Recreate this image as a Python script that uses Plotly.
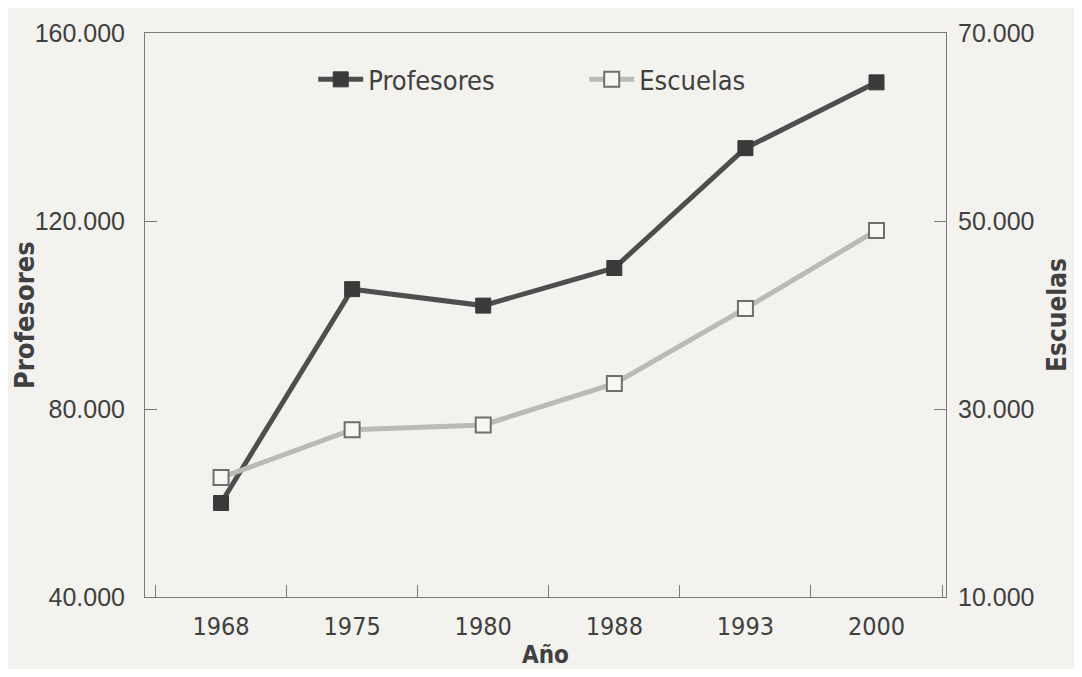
import plotly.graph_objects as go

# data
anios = ["1968", "1975", "1980", "1988", "1993", "2000"]
profesores = [60000, 105500, 102000, 110000, 135500, 149500]
escuelas = [22700, 27800, 28300, 32700, 40700, 49000]

TXT = "#404040"
COND = "DejaVu Sans Condensed, Liberation Sans Narrow, Arial Narrow, sans-serif"
REG = "Liberation Sans, Arial, sans-serif"
AXIS = "#7a7a7a"

fig = go.Figure()

fig.add_trace(go.Scatter(x=anios, y=profesores, name="Profesores",
                         mode="lines+markers",
                         line=dict(color="#4e4e4e", width=5),
                         marker=dict(symbol="square", size=15, color="#3a3a3a",
                                     line=dict(color="#3a3a3a", width=1))))

fig.add_trace(go.Scatter(x=anios, y=escuelas, name="Escuelas", yaxis="y2",
                         mode="lines+markers",
                         line=dict(color="#bbbbb4", width=5),
                         marker=dict(symbol="square", size=15, color="#f7f6f2",
                                     line=dict(color="#6e6e6e", width=2))))

# y titles as annotations so they sit where the scan has them
fig.add_annotation(text="<b>Profesores</b>", textangle=-90, showarrow=False,
                   xref="paper", yref="paper", x=0, y=0.5,
                   xanchor="center", yanchor="middle", xshift=-121,
                   font=dict(family=COND, size=27, color=TXT))
fig.add_annotation(text="<b>Escuelas</b>", textangle=-90, showarrow=False,
                   xref="paper", yref="paper", x=1, y=0.5,
                   xanchor="center", yanchor="middle", xshift=111,
                   font=dict(family=COND, size=26, color=TXT))

# page body has an 8px margin; keep the figure inside the window (no scrollbars)
fig.update_layout(
    width=1066, height=661,
    paper_bgcolor="#f3f2ee", plot_bgcolor="#f3f2ee",
    separators=",.",
    margin=dict(l=137, r=128, t=25, b=72),
    font=dict(family=COND, color=TXT),
    showlegend=True,
    legend=dict(orientation="h", x=0.21, y=0.917, xanchor="left", yanchor="middle",
                bgcolor="rgba(0,0,0,0)", font=dict(family=COND, size=27, color=TXT),
                itemwidth=45, entrywidth=211),
    xaxis=dict(type="category", range=[-0.58, 5.53], automargin=False,
               showline=True, linecolor=AXIS, linewidth=1, mirror=True,
               ticks="inside", tickson="boundaries", ticklen=12, tickcolor=AXIS,
               showgrid=False, zeroline=False, ticklabelstandoff=7,
               tickfont=dict(family=COND, size=25, color=TXT),
               title=dict(text="<b>Año</b>", font=dict(family=COND, size=24, color=TXT),
                          standoff=14)),
    yaxis=dict(range=[40000, 160000], tickvals=[40000, 80000, 120000, 160000],
               tickformat=",d", automargin=False,
               showline=True, linecolor=AXIS, linewidth=1,
               ticks="inside", ticklen=12, tickcolor=AXIS,
               showgrid=False, zeroline=False, ticklabelstandoff=14,
               tickfont=dict(family=REG, size=25, color=TXT)),
    yaxis2=dict(range=[10000, 70000], tickvals=[10000, 30000, 50000, 70000],
                tickformat=",d", overlaying="y", side="right", automargin=False,
                showline=True, linecolor=AXIS, linewidth=1,
                ticks="inside", ticklen=12, tickcolor=AXIS,
                showgrid=False, zeroline=False, ticklabelstandoff=6,
                tickfont=dict(family=REG, size=25, color=TXT)),
)

fig.write_html("out.html")
